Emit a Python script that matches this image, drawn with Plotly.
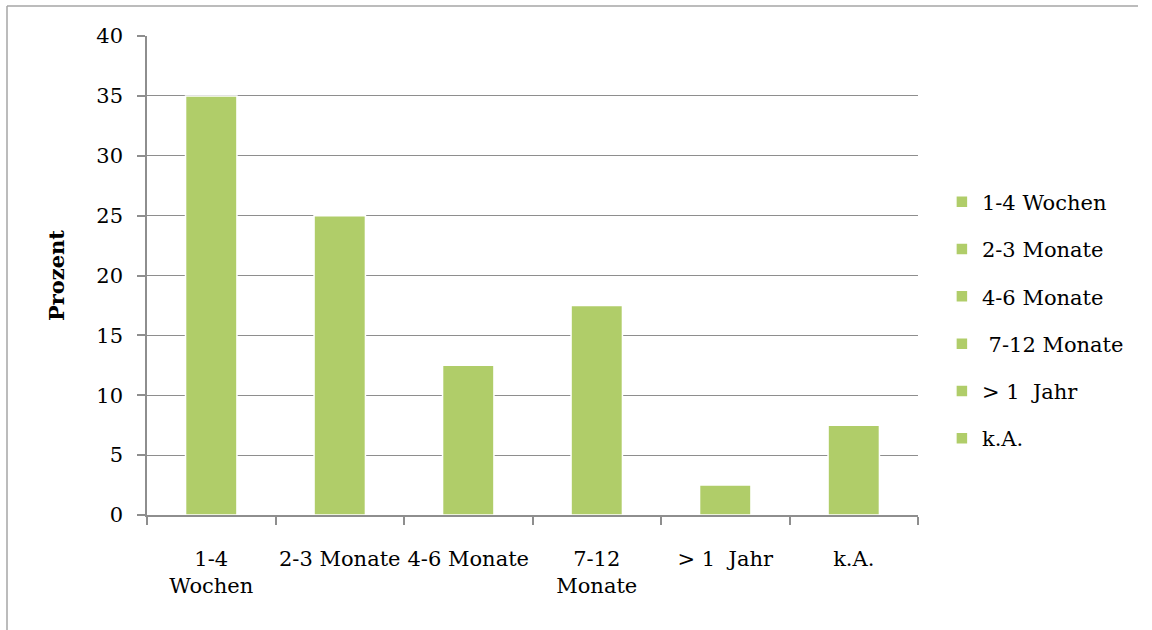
import plotly.graph_objects as go

# Dauer-Kategorien und Anteile in Prozent
categories = ["1-4 Wochen", "2-3 Monate", "4-6 Monate", " 7-12 Monate", "> 1  Jahr", "k.A."]
tick_labels = ["1-4<br>Wochen", "2-3 Monate", "4-6 Monate", "7-12<br>Monate", "> 1  Jahr", "k.A."]
values = [35, 25, 12.5, 17.5, 2.5, 7.5]

BAR_GREEN = "#B0CD69"
GRID = "#8E8E8E"
FONT = "DejaVu Serif"
FS = 21

fig = go.Figure()
for i, (name, val) in enumerate(zip(categories, values)):
    fig.add_trace(go.Bar(
        x=[tick_labels[i]],
        y=[val],
        name=name,
        legendgroup=f"g{i}",
        width=0.4,
        marker=dict(color=BAR_GREEN, line=dict(color="white", width=1.5)),
        hoverinfo="x+y",
    ))

# Rahmenlinien links und oben
frame_left = (7 - 147) / 771
frame_right = (1138 - 147) / 771
frame_top = (515 - 6) / 479

fig.update_layout(
    width=1152,
    height=630,
    margin=dict(l=147, r=234, t=36, b=115, autoexpand=False),
    paper_bgcolor="white",
    plot_bgcolor="white",
    barmode="overlay",
    font=dict(family=FONT, size=FS, color="black"),
    showlegend=True,
    legend=dict(
        x=1.031, xanchor="left",
        y=0.696, yanchor="top",
        font=dict(family=FONT, size=FS, color="black"),
        tracegroupgap=17,
        itemwidth=30,
        bgcolor="rgba(0,0,0,0)",
    ),
    xaxis=dict(
        type="category",
        categoryorder="array",
        categoryarray=tick_labels,
        showline=True, linecolor=GRID, linewidth=1.5,
        ticks="outside", ticklen=8, tickcolor=GRID, tickwidth=1.5,
        tickson="boundaries",
        tickangle=0,
        automargin=False,
        ticklabelstandoff=24,
        showgrid=False,
        tickfont=dict(family=FONT, size=FS),
        fixedrange=True,
    ),
    yaxis=dict(
        range=[0, 40],
        tickvals=[0, 5, 10, 15, 20, 25, 30, 35, 40],
        showline=True, linecolor=GRID, linewidth=1.5,
        ticks="outside", ticklen=8, tickcolor=GRID, tickwidth=1.5,
        showgrid=True, gridcolor=GRID, gridwidth=1,
        zeroline=False,
        automargin=False,
        ticklabelstandoff=10,
        tickfont=dict(family=FONT, size=FS),
        title=dict(text="<b>Prozent</b>", font=dict(family=FONT, size=FS), standoff=26),
        fixedrange=True,
    ),
    shapes=[
        dict(type="line", xref="paper", yref="paper",
             x0=frame_left, x1=frame_left, y0=-0.3, y1=frame_top,
             line=dict(color="#A6A6A6", width=1.5), layer="below"),
        dict(type="line", xref="paper", yref="paper",
             x0=frame_left, x1=frame_right, y0=frame_top, y1=frame_top,
             line=dict(color="#A6A6A6", width=1.5), layer="below"),
    ],
)

fig.write_html(
    "out.html",
    post_script="document.documentElement.style.overflow='hidden';"
                "document.body.style.overflow='hidden';",
)
